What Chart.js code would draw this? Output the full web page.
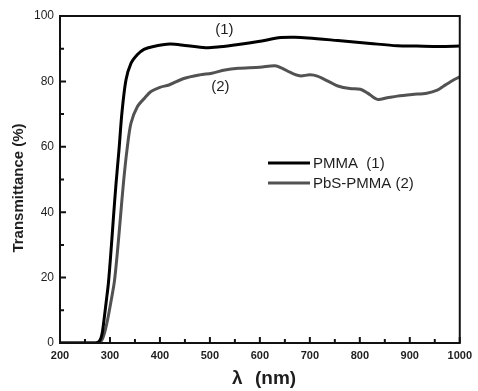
<!DOCTYPE html>
<html>
<head>
<meta charset="utf-8">
<script src="https://cdn.jsdelivr.net/npm/chart.js@4/dist/chart.umd.min.js"></script>
<style>
  html, body { margin: 0; padding: 0; background: #fff; }
  #wrap { width: 478px; height: 391px; }
</style>
</head>
<body>
<div id="wrap"><canvas id="c" width="478" height="391"></canvas></div>
<script>
// ---- Data ----
const xTicks = [200, 300, 400, 500, 600, 700, 800, 900, 1000];
const yTicks = [0, 20, 40, 60, 80, 100];

const wavelengthPMMA = [200, 250, 272, 278, 282, 285, 288, 292, 297, 302, 307, 312, 318, 324, 332, 342, 355, 368, 385, 420, 450, 491, 520, 557, 597, 642, 670, 696, 756, 821, 875, 914, 960, 1000];
const transPMMA      = [0,   0,   0,   0.4, 1.5, 3.5, 7,   12,  18.5, 28, 38.5, 48.5, 59, 70.5, 80.4, 85.5, 88.2, 89.8, 90.6, 91.4, 91.0, 90.3, 90.6, 91.3, 92.2, 93.4, 93.5, 93.3, 92.5, 91.6, 90.9, 90.8, 90.7, 90.8];

const wavelengthPbS = [200, 272, 281, 285, 289, 293, 297, 303, 309, 315, 321, 327, 334, 342, 355, 370, 382, 400, 418, 448, 480, 504, 530, 557, 600, 630, 645, 660, 680, 700, 715, 740, 756, 780, 801, 815, 835, 855, 875, 905, 934, 955, 968, 985, 1000];
const transPbS      = [0,   0,   0.4, 1.3, 3,   5.5, 8.5, 13.5, 19, 28, 38.5, 49, 59,  67.2, 72.3, 75, 76.9, 78.2, 78.9, 80.9, 82.0, 82.5, 83.5, 84.0, 84.3, 84.8, 84.0, 82.8, 81.7, 82.0, 81.6, 79.8, 78.6, 77.8, 77.6, 76.5, 74.5, 75.0, 75.5, 76.0, 76.4, 77.3, 78.6, 80.2, 81.4];

const seriesNames = ['PMMA  (1)', 'PbS-PMMA (2)'];
const curveLabels = [{ text: '(1)', x: 529, y: 95.7 }, { text: '(2)', x: 521, y: 78.3 }];

const toPoints = (xs, ys) => xs.map((x, i) => ({ x, y: ys[i] }));

const TEXT = '#1e1e1e';
const GRAY = '#525252';

const decor = {
  id: 'decor',
  afterDraw(chart) {
    const { ctx, chartArea: a, scales: { x, y } } = chart;
    ctx.save();
    // frame
    ctx.strokeStyle = '#111';
    ctx.lineWidth = 2;
    ctx.strokeRect(a.left, a.top, a.right - a.left, a.bottom - a.top);
    // ticks (inward)
    ctx.lineWidth = 2;
    ctx.beginPath();
    for (let v = 200; v <= 1000; v += 50) {
      const px = x.getPixelForValue(v);
      const len = (v % 100 === 0) ? 6 : 4;
      ctx.moveTo(px, a.bottom); ctx.lineTo(px, a.bottom - len);
    }
    for (let v = 0; v <= 100; v += 10) {
      const py = y.getPixelForValue(v);
      const len = (v % 20 === 0) ? 6 : 4;
      ctx.moveTo(a.left, py); ctx.lineTo(a.left + len, py);
    }
    ctx.stroke();

    // curve labels
    ctx.fillStyle = TEXT;
    ctx.font = '15px "Liberation Sans", Arial, sans-serif';
    ctx.textAlign = 'center';
    ctx.textBaseline = 'middle';
    curveLabels.forEach(l => ctx.fillText(l.text, x.getPixelForValue(l.x), y.getPixelForValue(l.y)));

    // legend
    const colors = ['#000', GRAY];
    const lx0 = a.left + 208, lx1 = a.left + 250, ly0 = a.top + 147, dy = 20;
    ctx.textAlign = 'left';
    seriesNames.forEach((n, i) => {
      const ly = ly0 + i * dy;
      ctx.strokeStyle = colors[i];
      ctx.lineWidth = 3;
      ctx.beginPath(); ctx.moveTo(lx0, ly); ctx.lineTo(lx1, ly); ctx.stroke();
      ctx.fillStyle = TEXT;
      ctx.fillText(n, lx1 + 3, ly + 1);
    });

    // axis titles
    ctx.save();
    ctx.translate(19, 188);
    ctx.rotate(-Math.PI / 2);
    ctx.textAlign = 'center';
    ctx.font = 'bold 15px "Liberation Sans", Arial, sans-serif';
    ctx.fillText('Transmittance (%)', 0, 0);
    ctx.restore();

    ctx.font = 'bold 19px "Liberation Sans", Arial, sans-serif';
    ctx.textAlign = 'left';
    ctx.textBaseline = 'alphabetic';
    ctx.fillText('λ', 232, 384);
    ctx.fillText('(nm)', 255, 384);
    ctx.restore();
  }
};

new Chart(document.getElementById('c'), {
  type: 'line',
  data: {
    datasets: [
      { label: seriesNames[0], data: toPoints(wavelengthPMMA, transPMMA), borderColor: '#000', borderWidth: 3, pointRadius: 0, tension: 0.3, fill: false },
      { label: seriesNames[1], data: toPoints(wavelengthPbS, transPbS), borderColor: GRAY, borderWidth: 3, pointRadius: 0, tension: 0.3, fill: false }
    ]
  },
  options: {
    responsive: false,
    animation: false,
    devicePixelRatio: 1,
    layout: { padding: { left: 0, right: 15, top: 16, bottom: 0 } },
    plugins: { legend: { display: false }, tooltip: { enabled: false } },
    scales: {
      x: {
        type: 'linear', min: 200, max: 1000,
        afterBuildTicks: s => { s.ticks = xTicks.map(v => ({ value: v })); },
        afterFit: s => { s.height = 48; },
        grid: { display: false, drawTicks: false },
        border: { display: false },
        ticks: { padding: 6, color: TEXT, maxRotation: 0, autoSkip: false, callback: v => String(v), font: { family: '"Liberation Sans", Arial, sans-serif', size: 11, weight: 'bold' } }
      },
      y: {
        type: 'linear', min: 0, max: 100,
        afterBuildTicks: s => { s.ticks = yTicks.map(v => ({ value: v })); },
        afterFit: s => { s.width = 60; },
        grid: { display: false, drawTicks: false },
        border: { display: false },
        ticks: { padding: 6, color: TEXT, callback: v => String(v), font: { family: '"Liberation Sans", Arial, sans-serif', size: 12 } }
      }
    }
  },
  plugins: [decor]
});
</script>
</body>
</html>
